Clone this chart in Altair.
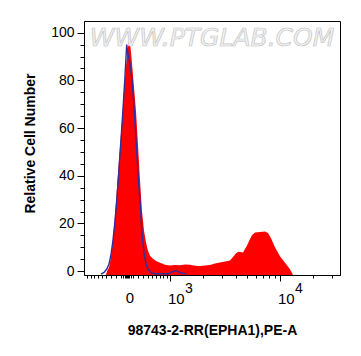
import math
import altair as alt
import pandas as pd

# ---- data (raw fluorescence value, % of max) ----
red_x = [-408, -385, -341, -320, -278, -237, -197, -159, -122, -86, -51, -16, 16, 38, 59,
         86, 122, 159, 197, 237, 278, 320, 363, 408, 453, 525, 600, 706, 847, 1000,
         1110, 1233, 1369, 1520, 1688, 1874, 2081, 2310, 2565, 2848, 3162, 3511, 3738,
         3981, 4195, 4609, 5012, 5337, 5567, 5925, 6579, 7305, 7780, 8286, 9006, 10000,
         11100, 12330, 13130]
red_y = [-1.6, 0, 1.5, 3.5, 9, 18, 29, 41, 52, 63, 75, 86, 94, 96.8, 94,
         87, 77, 67, 53, 38, 25, 17, 12, 8.5, 6.5, 5.2, 4.3, 3.5, 2.7, 2.4,
         2.6, 2.5, 2.8, 2.7, 2.3, 2.2, 2.4, 2.6, 3.2, 3.6, 4.1, 4.5, 5.9,
         7.5, 8.2, 7.8, 10.8, 13.5, 15.2, 16.2, 16.4, 16.6, 16.0, 13.8, 10.0, 6.3,
         3.5, 0.8, -1.6]

blue_x = [-525, -453, -385, -341, -298, -257, -217, -178, -140, -104, -68, -33, -5, 16, 50,
          86, 122, 159, 197, 237, 278, 320, 363, 408, 477, 575, 937, 1043, 1134, 1233, 1398]
blue_y = [-1.2, -0.5, 1, 3, 7, 13, 21, 31, 43, 55, 68, 82, 95, 91, 87,
          80, 69, 55, 41, 29, 16, 7.5, 3, 0.8, -0.6, -1.1, -1.1, -0.3, 0.2, -0.6, -1.1]

x_major_ticks = [1000, 10000]
x_minor_ticks = ([-900, -800, -700, -600, -500, -400, -300, -200, -100,
                  -60, -40, -20, 0, 20, 40, 60,
                  100, 200, 300, 400, 500, 600, 700, 800, 900,
                  2000, 3000, 4000, 5000, 6000, 7000, 8000, 9000, 20000, 30000])
x_label_values = [0, 1000, 10000]
x_label_text = ["0", "10", "10"]
x_exp_values = [1000, 10000]
x_exp_text = ["3", "4"]
y_tick_values = list(range(0, 101, 5))

# biexponential-like display transform (linear-ish near 0, log above 10^3)
C = 1087.0
K = 0.01516
DISP = ("datum.v >= 1000 ? 43 + 110 * log(datum.v / 1000) / LN10 : "
        "(datum.v < 0 ? -1 : 1) * log(1 + abs(datum.v) / 1087) / 0.01516")


def disp(v):
    if v >= 1000:
        return 43 + 110 * math.log10(v / 1000)
    s = -1 if v < 0 else 1
    return s * math.log(1 + abs(v) / C) / K


x_tick_disp = sorted(disp(v) for v in x_minor_ticks + x_major_ticks)

FONT = "Liberation Sans"
xscale = alt.Scale(domain=[-43, 213], nice=False, zero=False)
yscale = alt.Scale(domain=[-1.6, 104.9], nice=False, zero=False)

red_df = pd.DataFrame({"v": red_x, "y": red_y})
blue_df = pd.DataFrame({"v": blue_x, "y": blue_y})
lab_df = pd.DataFrame({"v": x_label_values, "t": x_label_text})
exp_df = pd.DataFrame({"v": x_exp_values, "t": x_exp_text})

xaxis = alt.Axis(
    values=x_tick_disp, labels=False, grid=False,
    tickSize={"condition": {"test": "datum.value > 42.9 && datum.value < 43.1 || datum.value > 152.9 && datum.value < 153.1", "value": 6}, "value": 3},
    tickColor="black", domainColor="black", tickWidth=1,
    title="98743-2-RR(EPHA1),PE-A", titleFont=FONT, titleFontSize=14,
    titleFontWeight="bold", titleColor="black", titleBaseline="alphabetic", titleY=59,
)
yaxis = alt.Axis(
    values=y_tick_values, grid=False,
    labelExpr="datum.value % 20 == 0 ? datum.label : ''",
    tickSize={"condition": {"test": "datum.value % 20 == 0", "value": 7}, "value": 4},
    tickColor="black", domainColor="black", tickWidth=1,
    labelFont=FONT, labelFontSize=14, labelColor="black", labelPadding=3,
    title="Relative Cell Number", titleFont=FONT, titleFontSize=14,
    titleFontWeight="bold", titleColor="black", titleBaseline="alphabetic",
    titleX=-50, titleY=122,
)

X = alt.X("d:Q", scale=xscale, axis=xaxis)
Y = alt.Y("y:Q", scale=yscale, axis=yaxis)

red = alt.Chart(red_df).transform_calculate(d=DISP).mark_area(
    color="#ff0000", interpolate="linear"
).encode(x=X, y=Y, y2=alt.datum(-1.6))

blue = alt.Chart(blue_df).transform_calculate(d=DISP).mark_line(
    color="#2e2e9e", strokeWidth=1.4, interpolate="linear"
).encode(x=X, y=Y)

zero_lab = alt.Chart(lab_df).transform_filter("datum.v == 0").transform_calculate(d=DISP).mark_text(
    font=FONT, fontSize=15, align="center", baseline="middle", dx=3, color="black"
).encode(x=X, y=alt.value(277), text="t:N")

ten_lab = alt.Chart(lab_df).transform_filter("datum.v > 0").transform_calculate(d=DISP).mark_text(
    font=FONT, fontSize=15, align="left", baseline="middle", dx=-2, color="black"
).encode(x=X, y=alt.value(277.5), text="t:N")

exp_lab = alt.Chart(exp_df).transform_calculate(d=DISP).mark_text(
    font=FONT, fontSize=14, align="left", baseline="middle", dx=15, color="black"
).encode(x=X, y=alt.value(267.5), text="t:N")

wm = alt.Chart(pd.DataFrame({"t": ["WWW.PTGLAB.COM"]})).mark_text(
    font="DejaVu Sans", fontSize=25, fontStyle="italic", align="center",
    baseline="alphabetic", fill="#f3f3f3", stroke="#c4c4c4", strokeWidth=0.7,
).encode(x=alt.value(128), y=alt.value(25), text="t:N")

chart = alt.layer(red, blue, zero_lab, ten_lab, exp_lab, wm).properties(
    width=256, height=254,
    autosize=alt.AutoSizeParams(type="none"),
    padding={"left": 84, "top": 21, "right": 21, "bottom": 81},
    background="white",
).configure_view(stroke="black", strokeWidth=1)

chart.save("out.html", embed_options={"renderer": "svg", "actions": False})
